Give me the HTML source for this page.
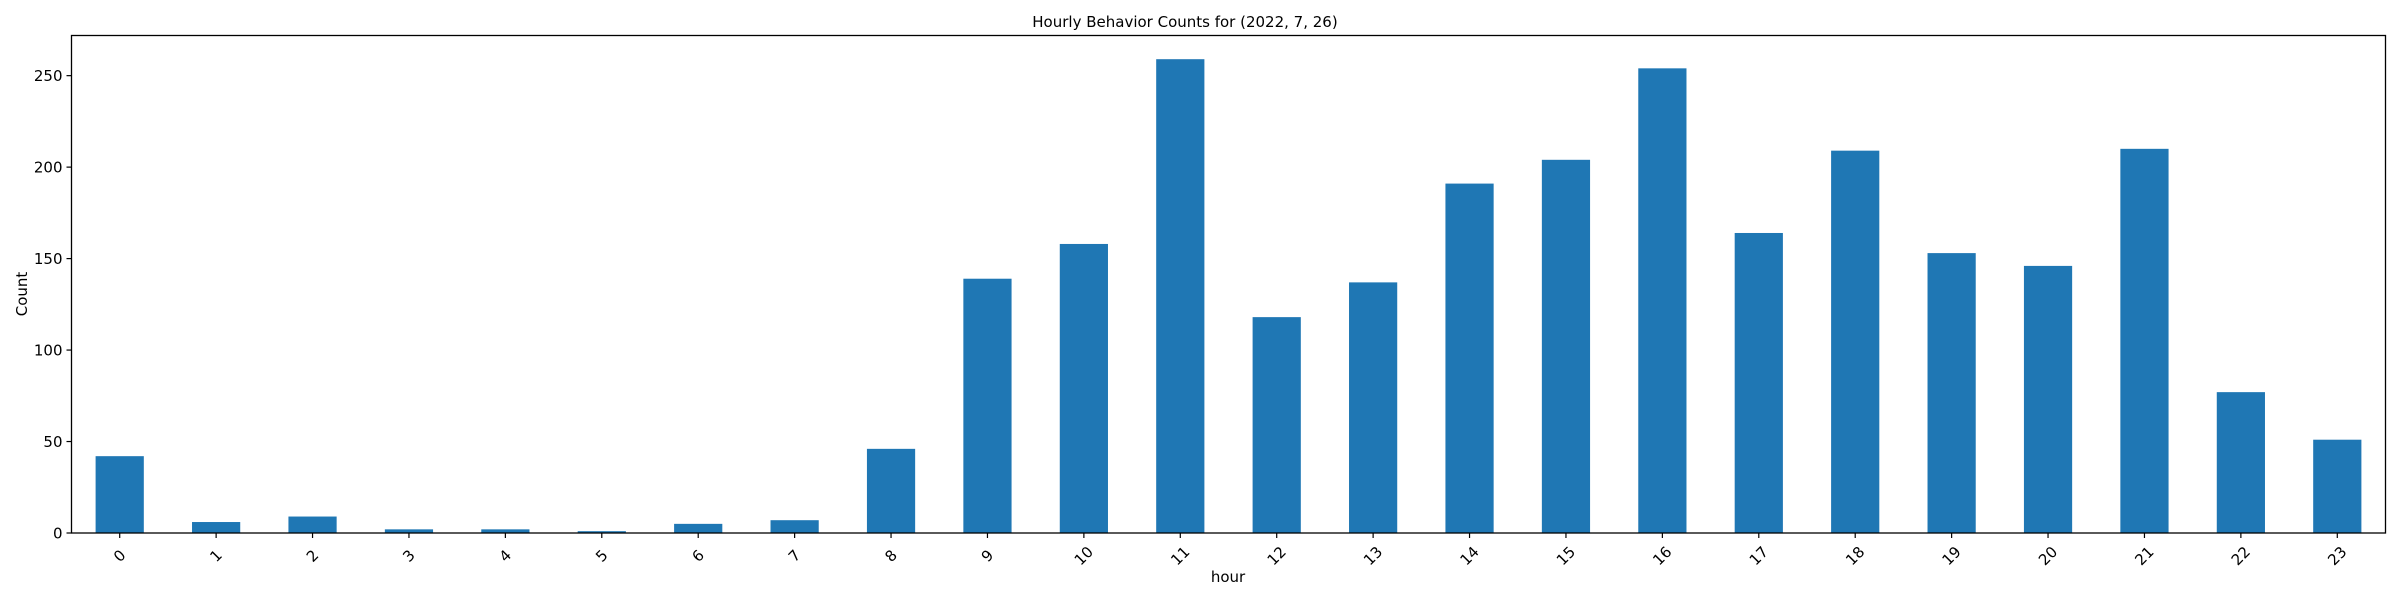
<!DOCTYPE html>
<html><head><meta charset="utf-8"><style>
html,body{margin:0;padding:0;background:#fff;}
svg text{font-family:"DejaVu Sans","Liberation Sans",sans-serif;fill:#000;}
</style></head><body>
<svg id="chart" width="2400" height="600" viewBox="0 0 2400 600" xmlns="http://www.w3.org/2000/svg">
<text x="1185" y="27" font-size="15" text-anchor="middle">Hourly Behavior Counts for (2022, 7, 26)</text>
<g id="bars"></g>
<g id="xticks"></g>
<g id="yticks"></g>
<rect x="71.5" y="35.5" width="2314" height="497.5" fill="none" stroke="#000" stroke-width="1.3"/>
<text x="1228" y="582" font-size="15" text-anchor="middle">hour</text>
<text x="0" y="0" font-size="15" text-anchor="middle" transform="translate(27,294) rotate(-90)">Count</text>
</svg>
<script>
const categories = ["0","1","2","3","4","5","6","7","8","9","10","11","12","13","14","15","16","17","18","19","20","21","22","23"];
const counts = [42,6,9,2,2,1,5,7,46,139,158,259,118,137,191,204,254,164,209,153,146,210,77,51];
const yTicks = [0,50,100,150,200,250];

const NS = "http://www.w3.org/2000/svg";
const L = 71.5, R = 2385.5, T = 35.5, B = 533;
const yMax = Math.max(...counts) * 1.05;
const step = (R - L) / categories.length;
function xPos(i){ return L + step * (i + 0.5); }
function yPos(v){ return B - (v / yMax) * (B - T); }

const bars = document.getElementById('bars');
const xt = document.getElementById('xticks');
const yt = document.getElementById('yticks');

categories.forEach((c, i) => {
  const r = document.createElementNS(NS, 'rect');
  const bw = step * 0.5;
  r.setAttribute('x', xPos(i) - bw / 2);
  r.setAttribute('y', yPos(counts[i]));
  r.setAttribute('width', bw);
  r.setAttribute('height', B - yPos(counts[i]));
  r.setAttribute('fill', '#1f77b4');
  
  
  bars.appendChild(r);

  const tk = document.createElementNS(NS, 'line');
  tk.setAttribute('x1', xPos(i)); tk.setAttribute('x2', xPos(i));
  tk.setAttribute('y1', B); tk.setAttribute('y2', B + 5);
  tk.setAttribute('stroke', '#000'); tk.setAttribute('stroke-width', '1.2');
  
  
  xt.appendChild(tk);

  const t = document.createElementNS(NS, 'text');
  t.setAttribute('x', 0); t.setAttribute('y', 5);
  t.setAttribute('font-size', '15');
  t.setAttribute('text-anchor', 'middle');
  t.setAttribute('transform', 'translate(' + xPos(i) + ',' + (B + 23) + ') rotate(-45)');
  t.textContent = c;
  
  
  xt.appendChild(t);
});

yTicks.forEach(v => {
  const tk = document.createElementNS(NS, 'line');
  tk.setAttribute('x1', L - 5); tk.setAttribute('x2', L);
  tk.setAttribute('y1', yPos(v)); tk.setAttribute('y2', yPos(v));
  tk.setAttribute('stroke', '#000'); tk.setAttribute('stroke-width', '1.2');
  
  
  yt.appendChild(tk);

  const t = document.createElementNS(NS, 'text');
  t.setAttribute('x', L - 9);
  t.setAttribute('y', yPos(v) + 5.5);
  t.setAttribute('font-size', '15');
  t.setAttribute('text-anchor', 'end');
  t.textContent = v;
  
  
  yt.appendChild(t);
});
</script>
</body></html>
